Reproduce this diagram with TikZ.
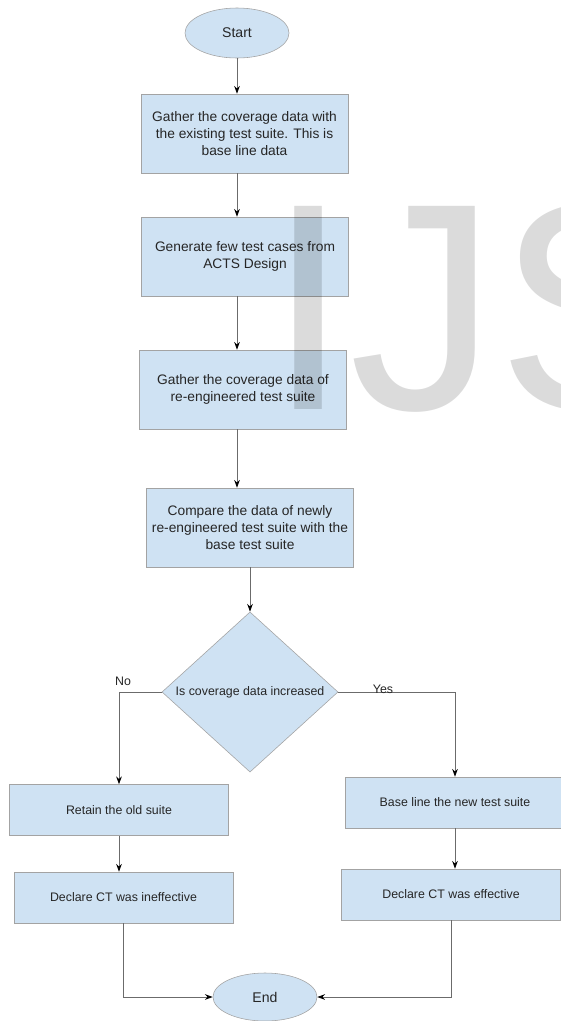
\documentclass[tikz,border=0pt]{standalone}
\usepackage{fontspec}
\setmainfont{Liberation Sans}
\usepackage{tikz}
\usetikzlibrary{shapes.geometric}
\usetikzlibrary{arrows.meta}
\definecolor{boxblue}{HTML}{CFE2F3}
\definecolor{boxline}{HTML}{A3A3A3}
\definecolor{flowline}{HTML}{6B6B6B}
\tikzset{%
  process/.style={
    rectangle,
    draw=boxline,
    fill=boxblue,
    align=center,
    inner sep=2pt,
    text=black!85,
    font=\fontsize{9.8}{11.8}\selectfont,
    minimum width=5.175cm,
    minimum height=1.975cm
  },
  result/.style={
    process,
    font=\fontsize{8.8}{10.6}\selectfont,
    minimum width=5.475cm,
    minimum height=1.275cm
  },
  terminal/.style={
    ellipse,
    draw=boxline,
    fill=boxblue,
    inner sep=0pt,
    text=black!85,
    font=\fontsize{10}{12}\selectfont,
    minimum width=2.6cm,
    minimum height=1.25cm
  },
  decide/.style={
    diamond,
    draw=boxline,
    fill=boxblue,
    inner sep=0pt,
    text=black!85,
    font=\fontsize{8.8}{10.6}\selectfont,
    minimum width=4.4cm,
    minimum height=2.95cm
  },
  flow/.style={
    draw=flowline,
    line width=0.65pt
  },
  branch/.style={
    text=black!85,
    font=\fontsize{8.8}{10.6}\selectfont,
    inner sep=0pt
  },
}

\begin{document}
\begin{tikzpicture}[> = {Stealth[length=5.5pt,width=4pt,color=black]}, x=0.025cm, y=-0.025cm]
\useasboundingbox (0,0) rectangle (560,1021);
\fill[white] (0,0) rectangle (560,1021);

% main column
\node[terminal] (start) at (237,33) {Start};
\node[process] (gatherbase) at (244.5,133.5) {Gather the coverage data with\\the existing test suite. This is\\base line data};
\node[process] (generate) at (245,256.5) {Generate few test cases from\\ACTS Design};
\node[process] (gathernew) at (243,389.5) {Gather the coverage data of\\re-engineered test suite};
\node[process] (compare) at (250,527.5) {Compare the data of newly\\re-engineered test suite with the\\base test suite};
\node[decide] (increased) at (250,692) {Is coverage data increased};

% the two outcomes
\node[result] (retain) at (119,810) {Retain the old suite};
\node[result] (ineffective) at (123.5,897.5) {Declare CT was ineffective};
\node[result] (baseline) at (455,802.5) {Base line the new test suite};
\node[result] (effective) at (451,894.5) {Declare CT was effective};
\node[terminal, minimum width=2.6cm, minimum height=1.2cm] (end) at (265,997) {End};

\draw[flow, ->] (start.south) -- (start.south |- gatherbase.north);
\draw[flow, ->] (gatherbase.south -| start.south) -- (generate.north -| start.south);
\draw[flow, ->] (generate.south -| start.south) -- (gathernew.north -| start.south);
\draw[flow, ->] (gathernew.south -| start.south) -- (compare.north -| start.south);
\draw[flow, ->] (compare.south) -- (increased.north);

\draw[flow, ->] (increased.west) -| (retain.north);
\draw[flow, ->] (increased.east) -| (baseline.north);
\draw[flow, ->] (retain.south) -- (retain.south |- ineffective.north);
\draw[flow, ->] (baseline.south) -- (baseline.south |- effective.north);
\draw[flow, ->] (ineffective.south) |- (end.west);
\draw[flow, ->] (effective.south) |- (end.east);

\node[branch, anchor=south] (no) at (123,686) {No};
\node[branch, anchor=south] (yes) at (383,694) {Yes};

% watermark
\node[anchor=base west, inner sep=0pt, text=black, text opacity=0.14,
      font=\fontsize{210}{210}\selectfont] (mark) at (267,409) {IJS};
\end{tikzpicture}
\end{document}
